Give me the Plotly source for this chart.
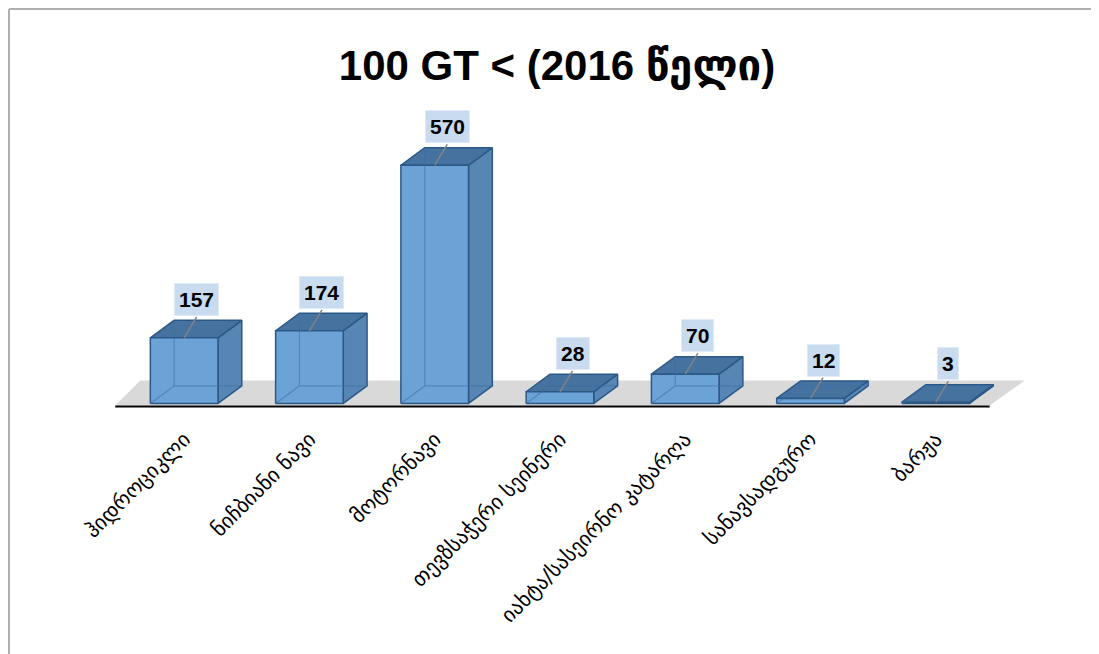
import plotly.graph_objects as go

categories = ["ჰიდროციკლი", "ნიჩბიანი ნავი", "მოტორნავი", "თევზსაჭერი სეინერი",
              "იახტა/სასეირნო კატარღა", "სანავსადგურო", "ბარჟა"]
values = [157, 174, 570, 28, 70, 12, 3]
title_text = "100 GT < (2016 წელი)"

# pseudo-3D geometry (in axis units)
HALF_W = 0.27
DX = 0.19
DY = 42
FRONT = "rgb(108,163,214)"
TOP = "rgb(70,114,160)"
SIDE = "rgb(88,134,180)"
EDGE = "rgb(44,88,134)"
INNER = "rgba(60,110,165,0.55)"

fig = go.Figure()
n = len(categories)

# floor
fx0, fx1 = -0.55, n - 1 + 0.43
fig.add_trace(go.Scatter(x=[fx0, fx1, fx1 + 0.28, fx0 + 0.2, fx0],
                         y=[-5, -5, 55, 55, -5], fill="toself", mode="lines",
                         line=dict(width=0), fillcolor="rgb(217,217,217)",
                         hoverinfo="skip", showlegend=False))
# baseline
fig.add_trace(go.Scatter(x=[fx0, fx1], y=[-7, -7], mode="lines",
                         line=dict(color="black", width=2), hoverinfo="skip", showlegend=False))

for i, v in enumerate(values):
    x0, x1 = i - HALF_W, i + HALF_W
    fig.add_trace(go.Scatter(x=[x1, x1 + DX, x1 + DX, x1, x1], y=[0, DY, v + DY, v, 0],
                             fill="toself", mode="lines", fillcolor=SIDE,
                             line=dict(color=EDGE, width=1.5), hoverinfo="skip", showlegend=False))
    fig.add_trace(go.Scatter(x=[x0, x1, x1 + DX, x0 + DX, x0], y=[v, v, v + DY, v + DY, v],
                             fill="toself", mode="lines", fillcolor=TOP,
                             line=dict(color=EDGE, width=1.5), hoverinfo="skip", showlegend=False))
    fig.add_trace(go.Scatter(x=[x0, x1, x1, x0, x0], y=[0, 0, v, v, 0],
                             fill="toself", mode="lines", fillcolor=FRONT,
                             line=dict(color=EDGE, width=1.5), hoverinfo="skip", showlegend=False))
    fig.add_trace(go.Scatter(x=[x0, x0 + DX, x1 + DX, None, x0 + DX, x0 + DX],
                             y=[0, DY, DY, None, DY, v + DY], mode="lines",
                             line=dict(color=INNER, width=1.2), hoverinfo="skip", showlegend=False))
    fig.add_trace(go.Scatter(x=[i + 0.1, i], y=[v + 50, v], mode="lines",
                             line=dict(color="rgb(130,130,130)", width=1.5),
                             hoverinfo="skip", showlegend=False))
    fig.add_annotation(x=i + 0.1, y=v + 92, xref="x", yref="y", text=f"<b>{v}</b>",
                       showarrow=False, font=dict(family="Liberation Sans, DejaVu Sans", size=21, color="black"),
                       bgcolor="rgba(196,216,238,0.92)", bordercolor="rgba(225,235,247,1)",
                       borderwidth=1, borderpad=4)

W, H = 1091, 646
fig.update_layout(
    width=W, height=H,
    margin=dict(l=101, r=63, t=103, b=238),
    paper_bgcolor="white", plot_bgcolor="white",
    title=dict(text=f"<b>{title_text}</b>", x=(557 - 8) / W, xanchor="center",
               y=1 - (65 - 8) / H, yanchor="middle", yref="container",
               font=dict(family="Liberation Sans, DejaVu Sans", size=42, color="black")),
    xaxis=dict(range=[-0.6, 6.8], tickmode="array", tickvals=list(range(n)),
               ticktext=categories, tickangle=-45, showgrid=False, zeroline=False,
               showline=False, ticks="", ticklabelstandoff=6,
               tickfont=dict(family="DejaVu Sans", size=21, color="black")),
    yaxis=dict(range=[-30, 700], visible=False, showgrid=False, zeroline=False),
    showlegend=False,
)
pw = W - 101 - 63
ph = H - 103 - 238
# frame border (top and left)
fig.add_shape(type="line", xref="paper", yref="paper",
              x0=-100 / pw, x1=1 + 70 / pw, y0=1 + 102 / ph, y1=1 + 102 / ph,
              line=dict(color="rgb(176,176,176)", width=2))
fig.add_shape(type="line", xref="paper", yref="paper",
              x0=-100 / pw, x1=-100 / pw, y0=-250 / ph, y1=1 + 102 / ph,
              line=dict(color="rgb(176,176,176)", width=2))

fig.write_html("out.html")
